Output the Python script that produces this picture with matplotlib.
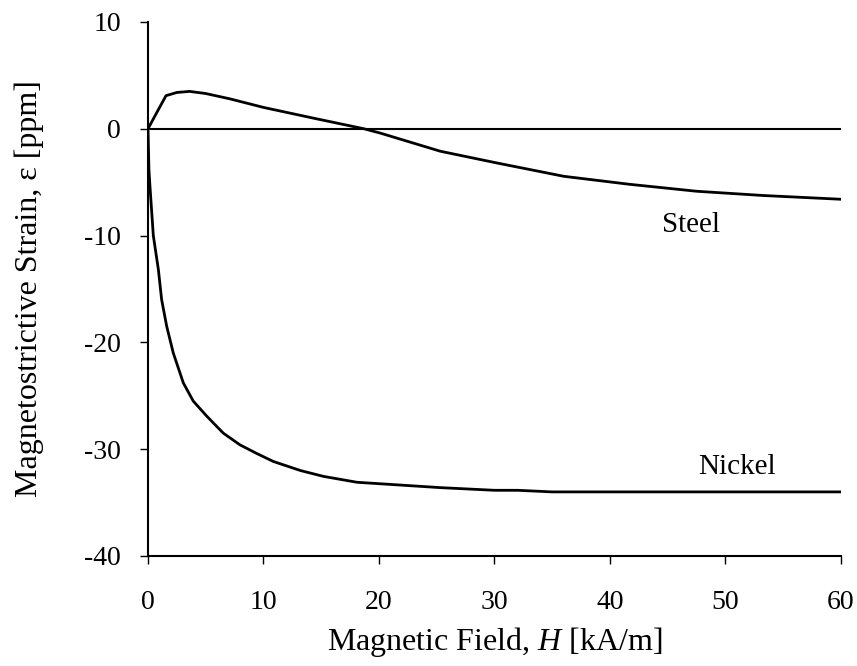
import matplotlib
matplotlib.use("Agg")
import matplotlib.pyplot as plt

plt.rcParams['font.family'] = ['Liberation Serif', 'DejaVu Serif']
plt.rcParams['mathtext.fontset'] = 'custom'
plt.rcParams['mathtext.rm'] = 'Liberation Serif'
plt.rcParams['mathtext.it'] = 'Liberation Serif:italic'
plt.rcParams['axes.unicode_minus'] = False

steel_h = [0, 0.75, 1.56, 2.5, 3.6, 5, 7.1, 10, 14.3, 18.7, 20.1, 25.3, 30.2, 36, 41.7, 47.5, 53.3, 60]
steel_e = [0, 1.5, 3.1, 3.4, 3.5, 3.3, 2.8, 2.0, 1.0, 0, -0.4, -2.1, -3.2, -4.45, -5.2, -5.85, -6.25, -6.6]

nickel_h = [0, 0.08, 0.17, 0.46, 0.9, 1.18, 1.62, 2.19, 3.06, 3.92, 5.08, 6.52, 7.97, 9.41, 10.85,
            13.2, 15.2, 18.1, 21.0, 25.3, 30, 32, 35, 60]
nickel_e = [0, -3.8, -5.4, -10, -13.2, -16, -18.5, -21.0, -23.8, -25.5, -26.9, -28.5, -29.6, -30.4, -31.15,
            -32.0, -32.55, -33.1, -33.3, -33.6, -33.85, -33.85, -34, -34]

x_ticks = [0, 10, 20, 30, 40, 50, 60]
y_ticks = [-40, -30, -20, -10, 0, 10]

fig = plt.figure(figsize=(8.57, 6.66), dpi=100)
ax = fig.add_axes([0.1727, 0.1652, 0.8086, 0.8018])

ax.axhline(0, color='black', lw=1.5)
ax.plot(steel_h, steel_e, color='black', lw=2, solid_joinstyle='round')
ax.plot(nickel_h, nickel_e, color='black', lw=2, solid_joinstyle='round')

ax.set_xlim(0, 60)
ax.set_ylim(-40, 10)
ax.set_xticks(x_ticks)
ax.set_yticks(y_ticks)
ax.spines['top'].set_visible(False)
ax.spines['right'].set_visible(False)
for s in ('left', 'bottom'):
    ax.spines[s].set_linewidth(1.5)
ax.tick_params(direction='out', length=6, width=1.0, labelsize=20)
ax.tick_params(axis='x', pad=18.5)
ax.tick_params(axis='y', pad=13.5)

ax.text(47.0, -9.0, 'Steel', fontsize=21, ha='center', va='center')
ax.text(51.0, -31.65, 'Nickel', fontsize=21, ha='center', va='center')

ax.set_xlabel(r'Magnetic Field, $\mathit{H}$ [kA/m]', fontsize=23, labelpad=7)
ax.set_ylabel('Magnetostrictive Strain, ε [ppm]', fontsize=23, labelpad=29)

fig.savefig('out.png', dpi=100)
